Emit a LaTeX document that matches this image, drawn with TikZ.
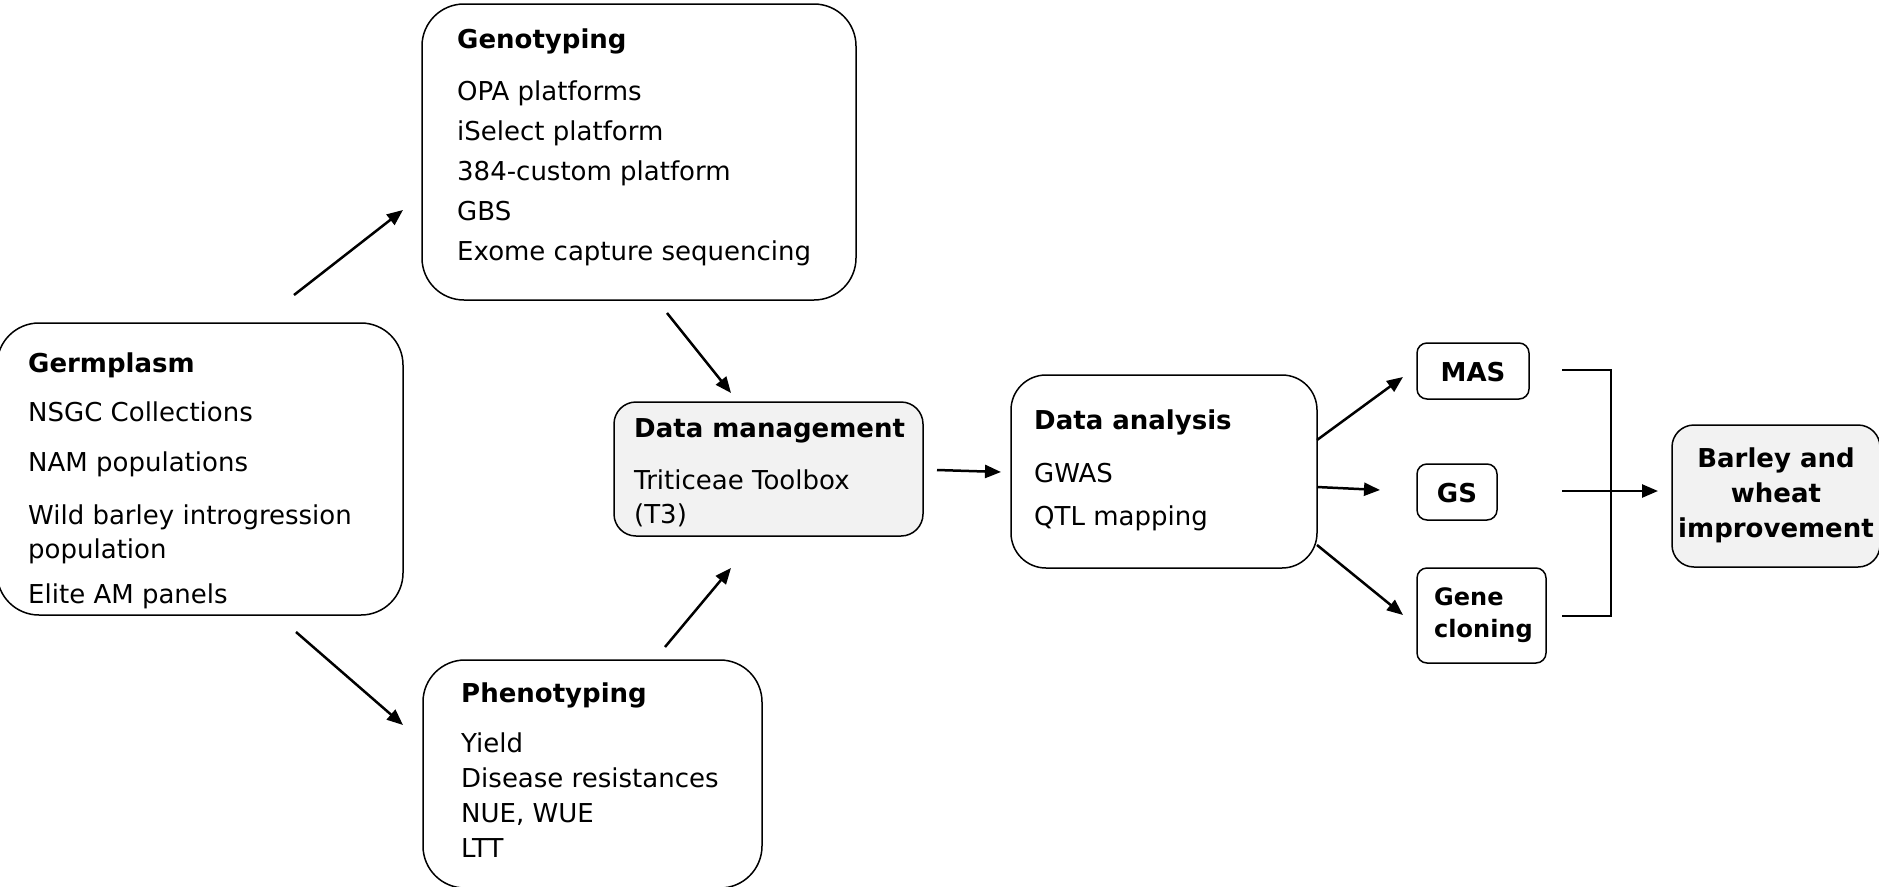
\documentclass[tikz,border=0pt]{standalone}
\usepackage{fontspec}
\setmainfont{DejaVu Sans}
\usetikzlibrary{arrows.meta}

% Multi-line text nodes are placed by the baseline of their last line.
\tikzset{
  box/.style={draw=black, line width=1.5pt, rectangle, inner sep=0pt, outer sep=0pt},
  bigbox/.style={box, rounded corners=42pt},
  midbox/.style={box, rounded corners=22pt, fill=gray!10},
  smallbox/.style={box, rounded corners=10pt},
  title/.style={anchor=base west, inner sep=0pt, font=\fontsize{26}{34}\selectfont\bfseries},
  body/.style={anchor=base west, inner sep=0pt, align=left},
  ctr/.style={anchor=base, inner sep=0pt, align=center, font=\fontsize{26}{35}\selectfont\bfseries},
  arr/.style={line width=2.5pt, -{Triangle[length=16pt,width=13pt]}},
  brk/.style={line width=2.8pt}
}

\begin{document}
\begin{tikzpicture}[x=1pt, y=-1pt]
\useasboundingbox (0,0) rectangle (1879,886);

% boxes
\node[bigbox, minimum width=406pt, minimum height=292pt] (germ) at (200,469) {};
\node[bigbox, minimum width=434pt, minimum height=296pt] (geno) at (639,152) {};
\node[bigbox, minimum width=339pt, minimum height=228pt] (pheno) at (592.5,774) {};
\node[midbox, minimum width=309pt, minimum height=134pt] (dm) at (768.5,469) {};
\node[box, rounded corners=35pt, minimum width=306pt, minimum height=193pt] (da) at (1164,471.5) {};
\node[smallbox, minimum width=112pt, minimum height=56pt] (mas) at (1473,371) {};
\node[smallbox, minimum width=80pt, minimum height=56pt] (gs) at (1457,492) {};
\node[smallbox, minimum width=129pt, minimum height=95pt] (gc) at (1481.5,615.5) {};
\node[midbox, minimum width=208pt, minimum height=142pt] (bw) at (1776,496) {};

% Germplasm
\node[title] (germT) at (28,372) {Germplasm};
\node[body, font=\fontsize{26}{34}\selectfont] (germB) at (28,603)
  {NSGC Collections\\[16pt]NAM populations\\[19pt]Wild barley introgression\\population\\[11pt]Elite AM panels};

% Genotyping
\node[title] (genoT) at (457,48) {Genotyping};
\node[body, font=\fontsize{26}{40}\selectfont] (genoB) at (457,260)
  {OPA platforms\\iSelect platform\\384-custom platform\\GBS\\Exome capture sequencing};

% Phenotyping
\node[title] (phenoT) at (461,702) {Phenotyping};
\node[body, font=\fontsize{26}{35}\selectfont] (phenoB) at (461,857)
  {Yield\\Disease resistances\\NUE, WUE\\LTT};

% Data management
\node[title] (dmT) at (634,437) {Data management};
\node[body, font=\fontsize{26}{34}\selectfont] (dmB) at (634,523)
  {Triticeae Toolbox\\(T3)};

% Data analysis
\node[title] (daT) at (1034,429) {Data analysis};
\node[body, font=\fontsize{26}{43}\selectfont] (daB) at (1034,525)
  {GWAS\\QTL mapping};

% outcomes
\node[ctr] (masT) at (1473,381) {MAS};
\node[ctr] (gsT) at (1457,502) {GS};
\node[body, font=\fontsize{24}{32}\selectfont\bfseries] (gcT) at (1434,637) {Gene\\cloning};
\node[ctr] (bwT) at (1776,537) {Barley and\\wheat\\improvement};

% connector ends
\coordinate (a1s) at (294,295);  \coordinate (a1e) at (403,210);
\coordinate (a2s) at (667,313);  \coordinate (a2e) at (731,393);
\coordinate (a3s) at (296,632);  \coordinate (a3e) at (403,725);
\coordinate (a4s) at (665,647);  \coordinate (a4e) at (731,568);
\coordinate (a5s) at (937,470);  \coordinate (a5e) at (1001,472);
\coordinate (a6s) at (1317,440); \coordinate (a6e) at (1403,377);
\coordinate (a7s) at (1317,487); \coordinate (a7e) at (1380,490);
\coordinate (a8s) at (1317,545); \coordinate (a8e) at (1403,615);
\coordinate (b1) at (1562,370);  \coordinate (b2) at (1611,370);
\coordinate (b3) at (1611,616);  \coordinate (b4) at (1562,616);
\coordinate (a9s) at (1562,491); \coordinate (a9e) at (1658,491);

% arrows
\draw[arr] (a1s) -- (a1e);
\draw[arr] (a2s) -- (a2e);
\draw[arr] (a3s) -- (a3e);
\draw[arr] (a4s) -- (a4e);
\draw[arr] (a5s) -- (a5e);
\draw[arr] (a6s) -- (a6e);
\draw[arr] (a7s) -- (a7e);
\draw[arr] (a8s) -- (a8e);
\draw[brk] (b1) -- (b2) -- (b3) -- (b4);
\draw[arr] (a9s) -- (a9e);
\end{tikzpicture}
\end{document}
